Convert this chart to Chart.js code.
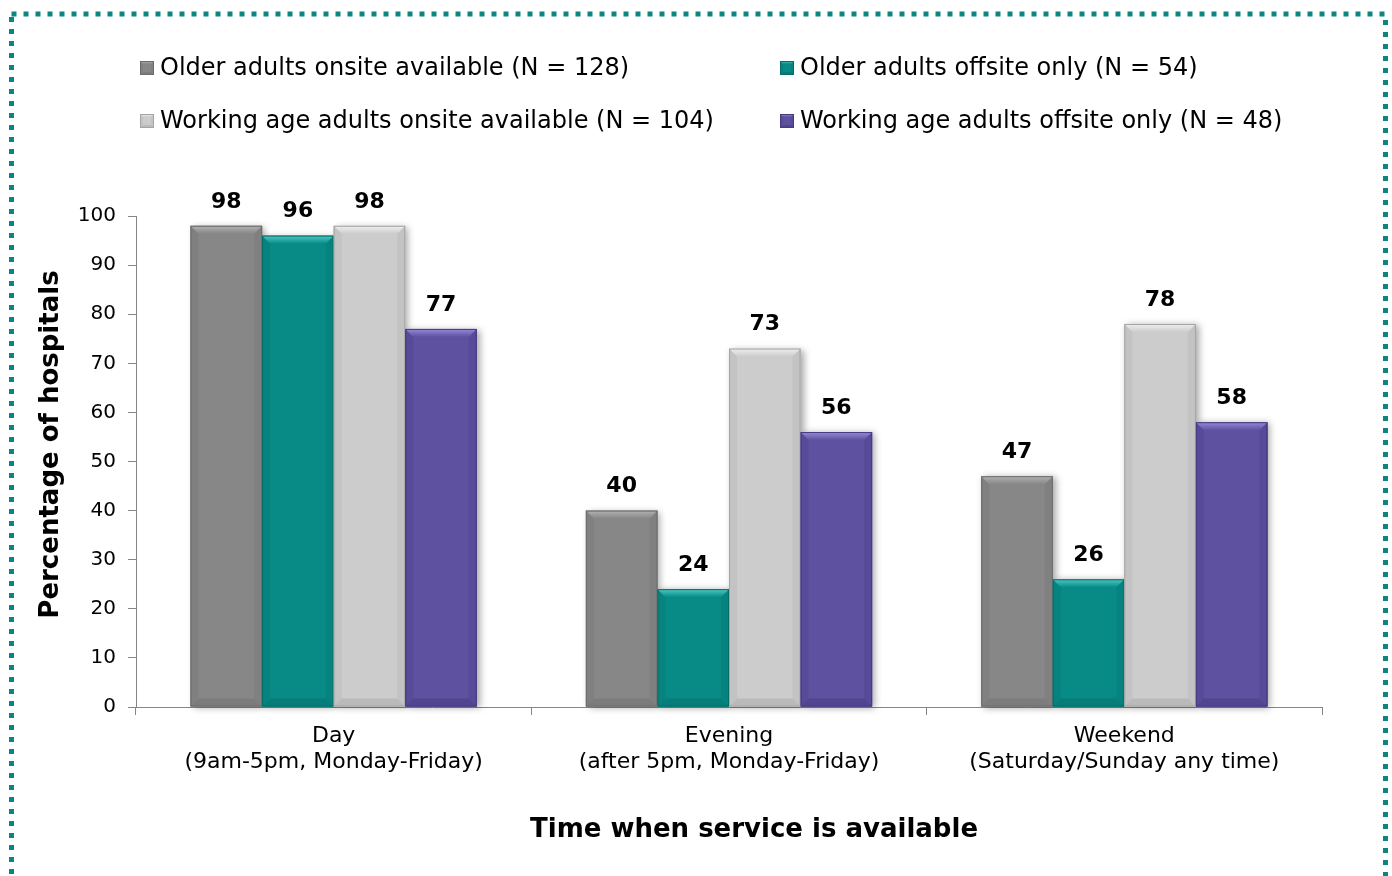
<!DOCTYPE html>
<html><head><meta charset="utf-8">
<script src="https://cdn.jsdelivr.net/npm/chart.js@4/dist/chart.umd.min.js"></script>
<style>html,body{margin:0;padding:0;background:#fff;}canvas{display:block;}</style>
</head><body>
<canvas id="c" width="1392" height="876"></canvas>
<script>
const categories = [["Day","(9am-5pm, Monday-Friday)"],["Evening","(after 5pm, Monday-Friday)"],["Weekend","(Saturday/Sunday any time)"]];
const seriesNames = ["Older adults onsite available (N = 128)","Older adults offsite only (N = 54)","Working age adults onsite available (N = 104)","Working age adults offsite only (N = 48)"];
const olderOnsite = [98, 40, 47];
const olderOffsite = [96, 24, 26];
const workingOnsite = [98, 73, 78];
const workingOffsite = [77, 56, 58];
const yMin = 0, yMax = 100, yStep = 10;
const xTitle = "Time when service is available";
const yTitle = "Percentage of hospitals";

const F = "'DejaVu Sans', Verdana, sans-serif";
const colors = ['#878787', '#088b87', '#cccccc', '#5e51a0'];
const tops = ['#b3b3b3', '#4ccac5', '#efefef', '#958ad9'];
const sides = ['#808080', '#07837f', '#c3c3c3', '#574a98'];
const bottoms = ['#7c7c7c', '#067d79', '#bababa', '#52458f'];
const lines = ['#6c6c6c', '#056c69', '#a5a5a5', '#463a80'];
const axisColor = '#868686';

function bevel(ctx, l, t, r, b, i, bv) {
  bv = Math.min(bv, (b - t) / 2, (r - l) / 2);
  ctx.fillStyle = sides[i];
  ctx.beginPath(); ctx.moveTo(l, t); ctx.lineTo(l + bv, t + bv); ctx.lineTo(l + bv, b - bv); ctx.lineTo(l, b); ctx.closePath(); ctx.fill();
  ctx.beginPath(); ctx.moveTo(r, t); ctx.lineTo(r - bv, t + bv); ctx.lineTo(r - bv, b - bv); ctx.lineTo(r, b); ctx.closePath(); ctx.fill();
  ctx.fillStyle = bottoms[i];
  ctx.beginPath(); ctx.moveTo(l, b); ctx.lineTo(l + bv, b - bv); ctx.lineTo(r - bv, b - bv); ctx.lineTo(r, b); ctx.closePath(); ctx.fill();
  const g = ctx.createLinearGradient(0, t, 0, t + bv);
  g.addColorStop(0, tops[i]); g.addColorStop(1, colors[i]);
  ctx.fillStyle = g;
  ctx.beginPath(); ctx.moveTo(l, t); ctx.lineTo(r, t); ctx.lineTo(r - bv, t + bv); ctx.lineTo(l + bv, t + bv); ctx.closePath(); ctx.fill();
  ctx.strokeStyle = lines[i]; ctx.lineWidth = 1;
  ctx.strokeRect(l + 0.5, t + 0.5, r - l - 1, b - t - 1);
}

function shiftTitle(scale, dx, dy) {
  if (scale._shifted) return;
  const orig = scale.drawTitle.bind(scale);
  scale.drawTitle = function () {
    const c = this.ctx; c.save(); c.translate(dx, dy); orig(); c.restore();
  };
  scale._shifted = true;
}

const decor = {
  id: 'decor',
  afterLayout(chart) {
    shiftTitle(chart.scales.x, 25, 2);
    shiftTitle(chart.scales.y, 0, -17);
  },
  beforeDatasetsDraw(chart) {
    const ctx = chart.ctx;
    chart.data.datasets.forEach((ds, i) => {
      chart.getDatasetMeta(i).data.forEach(bar => {
        const l = bar.x - bar.width / 2, r = bar.x + bar.width / 2;
        ctx.save();
        ctx.shadowColor = 'rgba(0,0,0,0.35)'; ctx.shadowBlur = 7; ctx.shadowOffsetX = 3; ctx.shadowOffsetY = 1;
        ctx.fillStyle = colors[i];
        ctx.fillRect(l, bar.y, r - l, bar.base - bar.y);
        ctx.restore();
      });
    });
  },
  afterDatasetsDraw(chart) {
    const ctx = chart.ctx;
    chart.data.datasets.forEach((ds, i) => {
      chart.getDatasetMeta(i).data.forEach((bar, j) => {
        const l = bar.x - bar.width / 2, r = bar.x + bar.width / 2;
        ctx.save();
        bevel(ctx, l, bar.y, r, bar.base, i, 8);
        ctx.fillStyle = '#000';
        ctx.font = 'bold 22px ' + F;
        ctx.textAlign = 'center'; ctx.textBaseline = 'middle';
        ctx.fillText(String(ds.data[j]), bar.x, bar.y - 24);
        ctx.restore();
      });
    });
  },
  afterDraw(chart) {
    const ctx = chart.ctx;
    ctx.save();
    ctx.strokeStyle = '#0a8580';
    ctx.lineWidth = 5;
    ctx.setLineDash([5, 7]);
    ctx.strokeRect(11.5, 14, 1374, 880);
    ctx.setLineDash([]);
    const colX = [140, 780], rowY = [68, 121];
    ctx.font = '24px ' + F;
    ctx.textBaseline = 'middle'; ctx.textAlign = 'left';
    chart.data.datasets.forEach((ds, i) => {
      const x = colX[i % 2], y = rowY[Math.floor(i / 2)];
      ctx.fillStyle = colors[i];
      ctx.fillRect(x, y - 7, 14, 14);
      bevel(ctx, x, y - 7, x + 14, y + 7, i, 3);
      ctx.fillStyle = '#000';
      ctx.fillText(ds.label, x + 20, y + 1);
    });
    ctx.restore();
  }
};

const dataSeries = [olderOnsite, olderOffsite, workingOnsite, workingOffsite];
new Chart(document.getElementById('c'), {
  type: 'bar',
  data: {
    labels: categories,
    datasets: dataSeries.map((d, i) => ({
      label: seriesNames[i], data: d, backgroundColor: colors[i],
      categoryPercentage: 0.724, barPercentage: 1.0, borderWidth: 0
    }))
  },
  options: {
    responsive: false, animation: false,
    layout: { padding: { left: 0, right: 70, top: 216, bottom: 0 } },
    plugins: { legend: { display: false }, tooltip: { enabled: false } },
    scales: {
      x: {
        grid: { display: true, drawOnChartArea: false, drawTicks: true, tickLength: 8, color: axisColor, offset: true },
        border: { color: axisColor, width: 1 },
        ticks: { font: { family: F, size: 22 }, color: '#000', padding: 8, maxRotation: 0, autoSkip: false },
        title: { display: true, text: xTitle, color: '#000', font: { family: F, size: 26, weight: 'bold' }, padding: { top: 0, bottom: 32 } },
        afterFit: s => { s.height = 169; }
      },
      y: {
        min: yMin, max: yMax,
        ticks: { stepSize: yStep, font: { family: F, size: 20 }, color: '#000', padding: 12 },
        grid: { drawOnChartArea: false, drawTicks: true, tickLength: 8, color: axisColor },
        border: { color: axisColor, width: 1 },
        title: { display: true, text: yTitle, color: '#000', font: { family: F, size: 26, weight: 'bold' }, padding: { top: 36, bottom: 0 } },
        afterFit: s => { s.width = 136; }
      }
    }
  },
  plugins: [decor]
});
</script>
</body></html>
